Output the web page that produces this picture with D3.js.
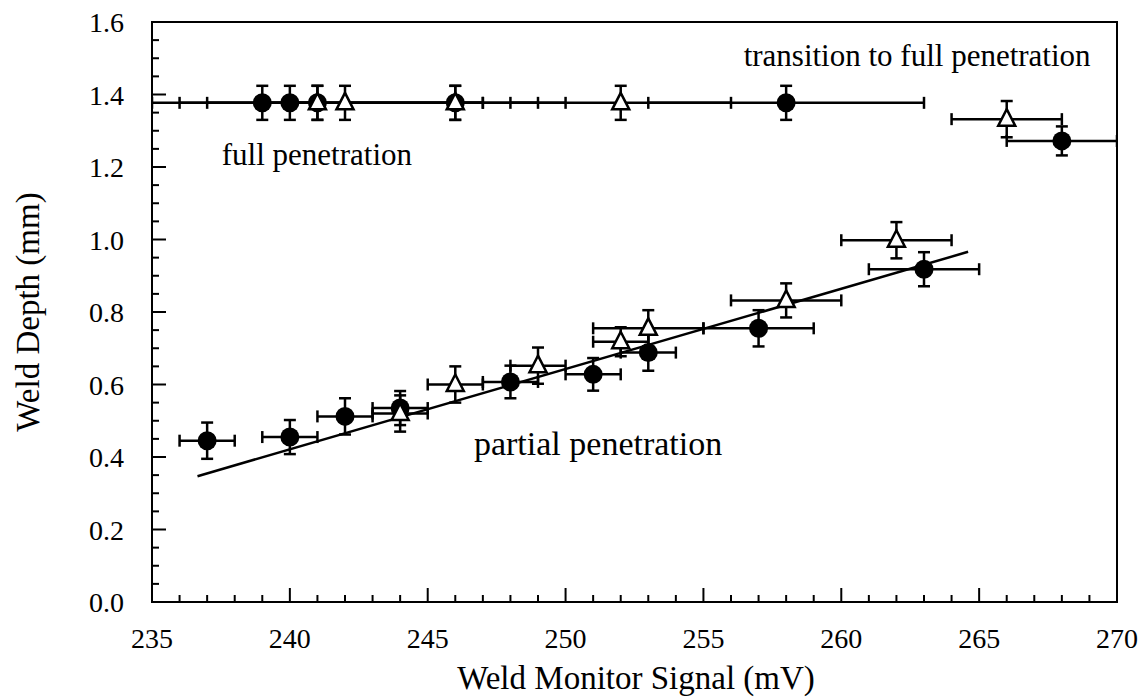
<!DOCTYPE html>
<html><head><meta charset="utf-8">
<script src="https://cdn.jsdelivr.net/npm/d3@7"></script>
<style>
html,body{margin:0;padding:0;background:#fff;}
svg text{font-family:"Liberation Serif","Times New Roman",serif;fill:#000;}
</style></head>
<body>
<svg id="chart" width="1148" height="698"></svg>
<script>
// ---- data ----
// filled circles
const circX   = [237, 240, 242, 244, 248, 251, 253, 257, 263, 268, 239, 240, 241, 246, 258];
const circY   = [0.445, 0.455, 0.512, 0.535, 0.607, 0.628, 0.688, 0.755, 0.918, 1.272, 1.377, 1.377, 1.377, 1.377, 1.377];
const circXLo = [236, 239, 241, 243, 247, 250, 252, 255, 261, 266, 236, 239, 235, 242, 253];
const circXHi = [238, 241, 243, 245, 249, 252, 254, 259, 265, 270, 242, 241, 247, 250, 263];
const circYErr= [0.05, 0.047, 0.05, 0.047, 0.045, 0.045, 0.05, 0.05, 0.047, 0.04, 0.047, 0.047, 0.047, 0.047, 0.047];
// open triangles
const triX    = [244, 246, 249, 252, 253, 258, 262, 266, 241, 242, 246, 252];
const triY    = [0.52, 0.60, 0.652, 0.718, 0.755, 0.832, 0.998, 1.332, 1.377, 1.377, 1.377, 1.377];
const triXLo  = [243, 245, 248, 251, 251, 256, 260, 264, 240, 237, 242, 248];
const triXHi  = [245, 247, 250, 253, 255, 260, 264, 268, 242, 247, 249, 256];
const triYErr = [0.05, 0.05, 0.05, 0.04, 0.05, 0.047, 0.05, 0.05, 0.047, 0.047, 0.047, 0.047];
// fitted line endpoints
const fitX = [236.65, 264.6];
const fitY = [0.347, 0.966];
// axis ticks
const xTicks = [235, 240, 245, 250, 255, 260, 265, 270];
const yTicks = [0.0, 0.2, 0.4, 0.6, 0.8, 1.0, 1.2, 1.4, 1.6];
// annotations
const labels = ["transition to full penetration", "full penetration", "partial penetration"];
const labelX = [262.75, 240.98, 251.18];
const labelY = [1.479, 1.2055, 0.4055];

// ---- layout ----
const svg = d3.select("#chart");
const L = 152, R = 1117, T = 22, B = 602;
const x = d3.scaleLinear().domain([235, 270]).range([L, R]);
const y = d3.scaleLinear().domain([0, 1.6]).range([B, T]);
const annSize = [31, 31, 34];

const g = svg.append("g");
svg.append("defs").append("clipPath").attr("id","clip")
  .append("rect").attr("x",L).attr("y",T).attr("width",R-L).attr("height",B-T);

// frame
g.append("rect").attr("x",L).attr("y",T).attr("width",R-L).attr("height",B-T)
  .attr("fill","none").attr("stroke","#000").attr("stroke-width",2);

// x ticks (inward)
const xMinor = d3.range(236, 270, 1).filter(v => v % 5 !== 0);
g.selectAll(".xmin").data(xMinor).join("line")
  .attr("x1", d=>x(d)).attr("x2", d=>x(d)).attr("y1", B).attr("y2", B-7)
  .attr("stroke","#000").attr("stroke-width",2);
g.selectAll(".xmaj").data(xTicks).join("line")
  .attr("x1", d=>x(d)).attr("x2", d=>x(d)).attr("y1", B).attr("y2", B-14)
  .attr("stroke","#000").attr("stroke-width",2);
g.selectAll(".xlab").data(xTicks).join("text")
  .attr("x", d=>x(d)).attr("y", B+46).attr("text-anchor","middle")
  .attr("font-size", 28).text(d=>d);

// y ticks (inward)
const yMinor = d3.range(0.05, 1.6, 0.05).filter(v => Math.abs(v/0.2 - Math.round(v/0.2)) > 0.01);
g.selectAll(".ymin").data(yMinor).join("line")
  .attr("x1", L).attr("x2", L+7).attr("y1", d=>y(d)).attr("y2", d=>y(d))
  .attr("stroke","#000").attr("stroke-width",2);
g.selectAll(".ymaj").data(yTicks).join("line")
  .attr("x1", L).attr("x2", L+14).attr("y1", d=>y(d)).attr("y2", d=>y(d))
  .attr("stroke","#000").attr("stroke-width",2);
g.selectAll(".ylab").data(yTicks).join("text")
  .attr("x", 124).attr("y", d=>y(d)+10).attr("text-anchor","end")
  .attr("font-size", 28).text(d=>d.toFixed(1));

// axis titles
g.append("text").attr("x", 636).attr("y", 689).attr("text-anchor","middle")
  .attr("font-size", 33).text("Weld Monitor Signal (mV)");
g.append("text").attr("transform", `translate(39,${(T+B)/2}) rotate(-90)`)
  .attr("text-anchor","middle").attr("font-size", 33).text("Weld Depth (mm)");

const pg = g.append("g").attr("clip-path","url(#clip)");

// fit line
pg.append("line").attr("x1", x(fitX[0])).attr("y1", y(fitY[0]))
  .attr("x2", x(fitX[1])).attr("y2", y(fitY[1]))
  .attr("stroke","#000").attr("stroke-width",2.5);

function errorBars(xs, ys, xlo, xhi, yerr) {
  const idx = d3.range(xs.length);
  const eg = pg.append("g").attr("stroke","#000").attr("stroke-width",2.5);
  idx.forEach(i => {
    eg.append("line").attr("x1", x(xlo[i])).attr("x2", x(xhi[i])).attr("y1", y(ys[i])).attr("y2", y(ys[i]));
    eg.append("line").attr("x1", x(xlo[i])).attr("x2", x(xlo[i])).attr("y1", y(ys[i])-6).attr("y2", y(ys[i])+6);
    eg.append("line").attr("x1", x(xhi[i])).attr("x2", x(xhi[i])).attr("y1", y(ys[i])-6).attr("y2", y(ys[i])+6);
    eg.append("line").attr("x1", x(xs[i])).attr("x2", x(xs[i])).attr("y1", y(ys[i]-yerr[i])).attr("y2", y(ys[i]+yerr[i]));
    eg.append("line").attr("x1", x(xs[i])-6).attr("x2", x(xs[i])+6).attr("y1", y(ys[i]-yerr[i])).attr("y2", y(ys[i]-yerr[i]));
    eg.append("line").attr("x1", x(xs[i])-6).attr("x2", x(xs[i])+6).attr("y1", y(ys[i]+yerr[i])).attr("y2", y(ys[i]+yerr[i]));
  });
}
errorBars(circX, circY, circXLo, circXHi, circYErr);
errorBars(triX, triY, triXLo, triXHi, triYErr);

// markers
pg.selectAll(".circ").data(d3.range(circX.length)).join("circle")
  .attr("cx", i=>x(circX[i])).attr("cy", i=>y(circY[i])).attr("r", 9.5)
  .attr("fill","#000");
const triPath = "M0,-10 L8.5,6.5 L-8.5,6.5 Z";
pg.selectAll(".tri").data(d3.range(triX.length)).join("path")
  .attr("d", triPath)
  .attr("transform", i=>`translate(${x(triX[i])},${y(triY[i])})`)
  .attr("fill","#fff").attr("stroke","#000").attr("stroke-width",2.5);

// annotations
g.selectAll(".ann").data(d3.range(labels.length)).join("text")
  .attr("x", i=>x(labelX[i])).attr("y", i=>y(labelY[i])).attr("text-anchor","middle")
  .attr("font-size", i=>annSize[i]).text(i=>labels[i]);
</script>
</body></html>
